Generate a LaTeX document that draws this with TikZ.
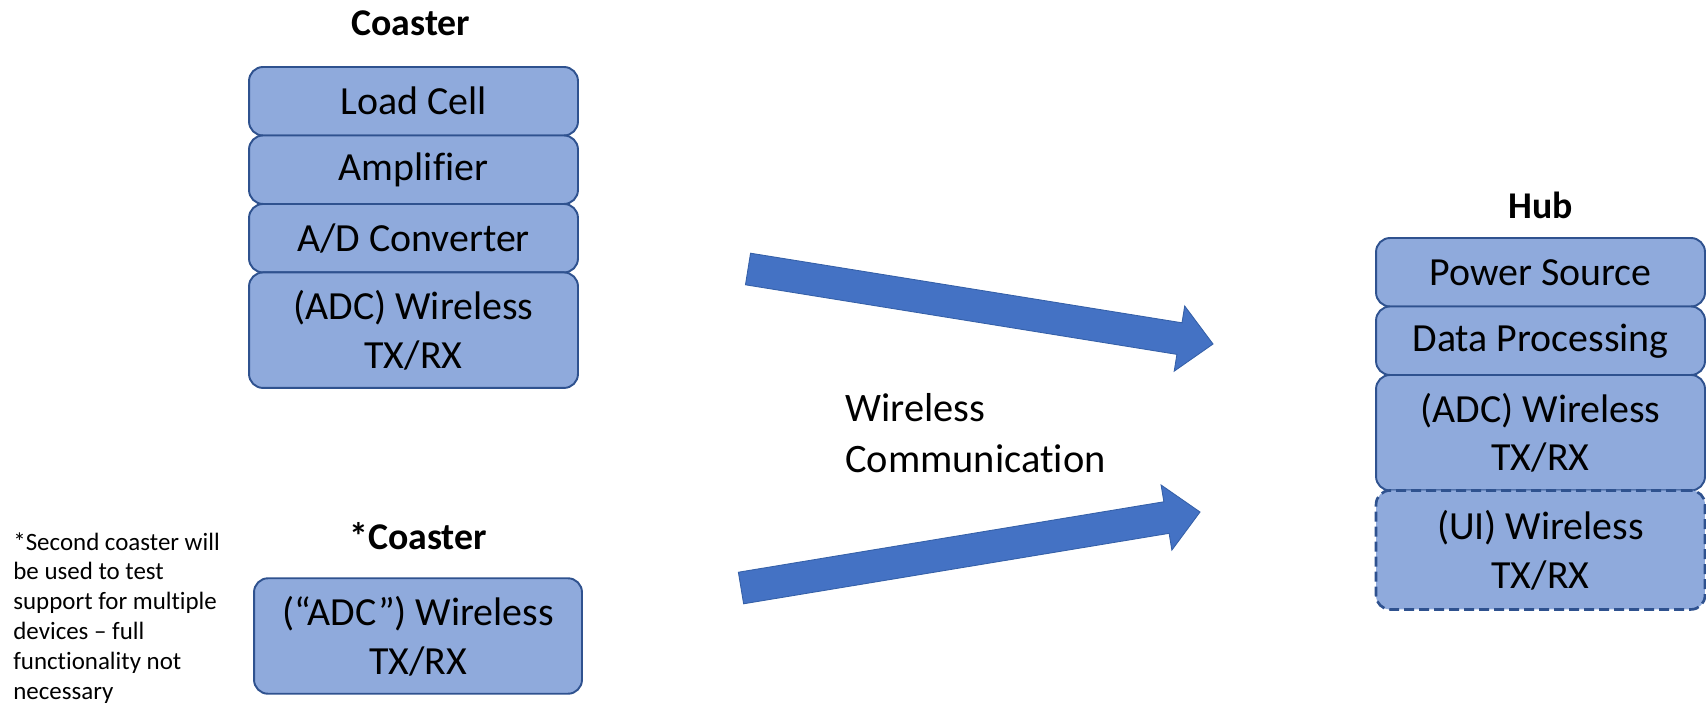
\documentclass[tikz,border=0pt]{standalone}
\usepackage{fontspec}
\setmainfont{Carlito}[Ligatures=NoCommon]
\usetikzlibrary{positioning,calc}
\definecolor{boxfill}{HTML}{8FAADC}
\definecolor{boxline}{HTML}{2F528F}
\definecolor{arrowfill}{HTML}{4472C4}
\definecolor{arrowline}{HTML}{3560A8}
\tikzset{
  blk/.style={draw=boxline, fill=boxfill, line width=1.1pt, rounded corners=0.28cm,
    minimum width=6.58cm, align=center, outer sep=0pt, inner sep=2pt,
    font=\fontsize{22.7}{27.8}\selectfont},
  blk1/.style={blk, minimum height=1.37cm},
  blk2/.style={blk, minimum height=2.31cm},
  ttl/.style={font=\fontsize{21.5}{26}\selectfont\bfseries, inner sep=0pt},
  wide arrow/.style={fill=arrowfill, draw=arrowline, line width=0.5pt, line join=miter}
}
\begin{document}
\begin{tikzpicture}[x=0.02cm, y=0.02cm]
\useasboundingbox (0,0) rectangle (1706,708);
% Coaster stack
\node[ttl] (ctitle) at (411,685) {Coaster};
\node[blk1, anchor=north] (lc) at (413.5,641) {Load Cell};
\node[blk1, below=0pt of lc] (amp) {Amplifier};
\node[blk1, below=0pt of amp] (adc) {A/D Converter};
\node[blk2, below=0pt of adc] (ctx) {(ADC) Wireless\\TX/RX};
% second coaster
\node[ttl] (stitle) at (418,172) {*Coaster};
\node[blk2, minimum width=6.56cm] (stx) at (418,72) {(“ADC”) Wireless\\TX/RX};
\node[anchor=north west, align=left, inner sep=0pt, font=\fontsize{14.2}{17}\selectfont] (note) at (13,176)
  {*Second coaster will\\be used to test\\support for multiple\\devices -- full\\functionality not\\necessary};
% Hub stack
\node[ttl] (htitle) at (1540.5,503) {Hub};
\node[blk1, anchor=north] (pwr) at (1540.5,470) {Power Source};
\node[blk1, below=0pt of pwr] (dp) {Data Processing};
\node[blk2, below=0pt of dp] (htx) {(ADC) Wireless\\TX/RX};
\node[blk2, below=0pt of htx, line width=1.5pt, dash pattern=on 0.2cm off 0.1cm, minimum height=2.38cm] (hui) {(UI) Wireless\\TX/RX};
% wireless links
\node[anchor=west, align=left, inner sep=0pt, font=\fontsize{23}{28.9}\selectfont] (wl) at (845,275) {Wireless\\Communication};
\coordinate (tx1) at (748,439);
\coordinate (rx1) at (1213,364);
\coordinate (tx2) at (741,120);
\coordinate (rx2) at (1200,196);
\foreach \a/\b in {tx1/rx1, tx2/rx2} {
  \coordinate (hb) at ($(\b)!0.68cm!(\a)$);
  \draw[wide arrow] ($(\a)!0.32cm!90:(\b)$) -- ($(hb)!0.32cm!-90:(\a)$) -- ($(hb)!0.66cm!-90:(\a)$) -- (\b)
    -- ($(hb)!0.66cm!90:(\a)$) -- ($(hb)!0.32cm!90:(\a)$) -- ($(\a)!0.32cm!-90:(\b)$) -- cycle;
}
\end{tikzpicture}
\end{document}
